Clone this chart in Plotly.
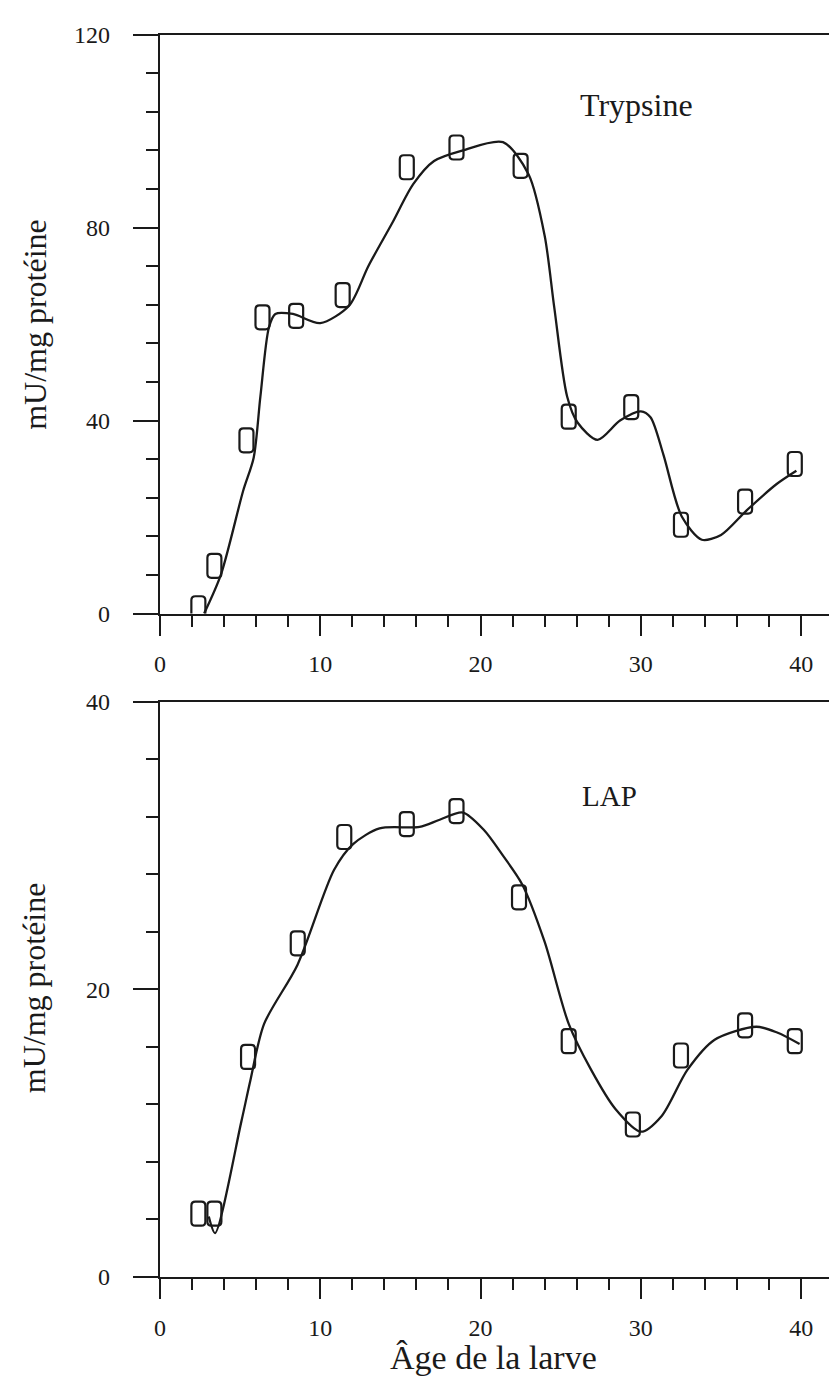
import plotly.graph_objects as go

# ---- data ----
tryp_age = [2.4, 3.4, 5.4, 6.4, 8.5, 11.4, 15.4, 18.5, 22.5, 25.5, 29.4, 32.5, 36.5, 39.6]
tryp_val = [1.1, 9.9, 35.9, 61.4, 61.7, 66.0, 92.5, 96.6, 92.8, 40.8, 42.8, 18.4, 23.2, 31.0]

tryp_curve_x = [2.76, 3.8, 5.2, 5.85, 6.27, 6.8, 7.2, 8.3, 10.0, 11.8, 13.0, 14.5, 15.8, 17.1,
                18.9, 21.4, 23.0, 24.0, 24.6, 25.4, 26.05, 27.3, 28.7, 30.0, 30.6, 31.4, 32.55,
                33.8, 35.0, 36.6, 38.45, 39.7]
tryp_curve_y = [0, 8, 25.5, 32.3, 45, 59.3, 62.1, 62.1, 60.2, 63.8, 72, 81, 89, 93.8,
                96, 97.7, 91, 78.3, 63.4, 45, 39.6, 36, 40, 41.9, 40.7, 33, 20.1,
                15.3, 16.3, 21.4, 26.8, 29.6]

lap_age = [2.4, 3.4, 5.5, 8.6, 11.5, 15.4, 18.5, 22.4, 25.5, 29.5, 32.5, 36.5, 39.6]
lap_val = [4.4, 4.4, 15.3, 23.2, 30.6, 31.5, 32.4, 26.4, 16.4, 10.6, 15.4, 17.5, 16.4]

lap_curve_x = [3.05, 3.44, 5.08, 5.65, 6.5, 8.58, 10.86, 12.05, 13.7, 16.2, 17.45, 18.9, 20.2,
               21.4, 22.6, 24.0, 25.5, 26.9, 28.4, 30.0, 31.3, 32.9, 34.6, 37.2, 38.5, 39.9]
lap_curve_y = [4.2, 3.05, 10.8, 13.7, 17.6, 21.7, 28.3, 30.1, 31.2, 31.3, 31.8, 32.3, 31.1,
               29.3, 27.3, 23.3, 17.6, 14.4, 11.7, 10.1, 11.2, 14.4, 16.5, 17.4, 17.0, 16.2]

top_ticks = [0, 40, 80, 120]
bot_ticks = [0, 20, 40]
x_ticks = [0, 10, 20, 30, 40]

# ---- layout constants ----
W, H = 829, 1389
INK = "#1a1a1a"
FONT = "Liberation Serif"

def py(p):
    return 1 - p / H

fig = go.Figure()

fig.add_trace(go.Scatter(x=tryp_curve_x, y=tryp_curve_y, mode="lines",
                         line=dict(color=INK, width=2.3, shape="spline", smoothing=0.8),
                         xaxis="x", yaxis="y", showlegend=False, hoverinfo="skip"))
fig.add_trace(go.Scatter(x=lap_curve_x, y=lap_curve_y, mode="lines",
                         line=dict(color=INK, width=2.3, shape="spline", smoothing=0.8),
                         xaxis="x2", yaxis="y2", showlegend=False, hoverinfo="skip"))

# rounded-rectangle markers (pixel-sized, anchored at data values)
MARK = ("M -7,-8 L -7,8 Q -7,12 -3,12 L 3,12 Q 7,12 7,8 L 7,-8 "
        "Q 7,-12 3,-12 L -3,-12 Q -7,-12 -7,-8 Z")
shapes = []
for xa, ya, xs, ys in (("x", "y", tryp_age, tryp_val), ("x2", "y2", lap_age, lap_val)):
    for xv, yv in zip(xs, ys):
        shapes.append(dict(type="path", xref=xa, yref=ya, xsizemode="pixel",
                           ysizemode="pixel", xanchor=xv, yanchor=yv, path=MARK,
                           line=dict(color=INK, width=2.2), layer="above"))

xr = [0, (W - 155) / 16.15]
xdom = [155 / W, 1]

def xaxis_def(anchor):
    return dict(domain=xdom, range=xr, anchor=anchor, tickvals=x_ticks,
                ticks="outside", ticklen=20, tickwidth=2, tickcolor=INK,
                minor=dict(dtick=2, tick0=0, ticks="outside", ticklen=11,
                           tickwidth=2, tickcolor=INK),
                showline=True, linewidth=2, linecolor=INK, mirror=True,
                showgrid=False, zeroline=False, ticklabelstandoff=8,
                tickfont=dict(family=FONT, size=24, color=INK))

def yaxis_def(dom, rng, tv, mdt, anchor):
    return dict(domain=dom, range=rng, anchor=anchor, tickvals=tv,
                ticks="outside", ticklen=25, tickwidth=2, tickcolor=INK,
                minor=dict(dtick=mdt, tick0=0, ticks="outside", ticklen=12,
                           tickwidth=2, tickcolor=INK),
                showline=True, linewidth=2, linecolor=INK, mirror=False,
                showgrid=False, zeroline=False, ticklabelstandoff=18,
                tickfont=dict(family=FONT, size=24, color=INK))

def note(text, px, pyy, size, angle=0):
    return dict(text=text, x=px / W, y=py(pyy), xref="paper", yref="paper",
                xanchor="center", yanchor="middle", textangle=angle,
                showarrow=False, font=dict(family=FONT, size=size, color=INK))

fig.update_layout(
    width=W, height=H, autosize=False,
    margin=dict(l=0, r=0, t=0, b=0, pad=0),
    paper_bgcolor="white", plot_bgcolor="white",
    showlegend=False,
    xaxis=xaxis_def("y"),
    xaxis2=xaxis_def("y2"),
    yaxis=yaxis_def([py(612), py(22)], [0, 120], top_ticks, 8, "x"),
    yaxis2=yaxis_def([py(1288), py(702)], [0, 40], bot_ticks, 4, "x2"),
    shapes=shapes,
    annotations=[
        note("Trypsine", 635, 94, 32),
        note("LAP", 608, 798, 29),
        note("mU/mg protéine", 29, 317, 32, -90),
        note("mU/mg protéine", 29, 993, 32, -90),
        note("Âge de la larve", 491, 1370, 34),
    ],
)

fig.write_html("out.html")
